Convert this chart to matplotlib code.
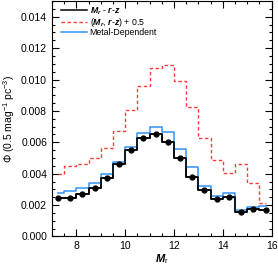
import matplotlib
matplotlib.use("Agg")
import matplotlib.pyplot as plt
from matplotlib.ticker import MultipleLocator, FormatStrFormatter

plt.rcParams['font.family'] = ['Liberation Sans', 'DejaVu Sans']
plt.rcParams['mathtext.fontset'] = 'custom'
plt.rcParams['mathtext.it'] = 'Liberation Sans:italic:bold'
plt.rcParams['mathtext.rm'] = 'Liberation Sans'
plt.rcParams['mathtext.bf'] = 'Liberation Sans:bold'

mag = [7.25, 7.75, 8.25, 8.75, 9.25, 9.75, 10.25, 10.75, 11.25, 11.75,
       12.25, 12.75, 13.25, 13.75, 14.25, 14.75, 15.25, 15.75]
phi_black = [0.00243, 0.00247, 0.0027, 0.00306, 0.00373, 0.00462, 0.00553, 0.0063,
             0.00652, 0.00602, 0.0050, 0.00381, 0.00295, 0.00238, 0.0025, 0.00156,
             0.00177, 0.00166]
phi_red = [0.00395, 0.0045, 0.0046, 0.00497, 0.00564, 0.00672, 0.00803, 0.00957,
           0.01074, 0.01095, 0.00989, 0.00824, 0.0063, 0.00486, 0.00405, 0.0046,
           0.00342, 0.00215]
phi_blue = [0.0028, 0.00287, 0.00306, 0.00338, 0.00399, 0.00475, 0.0057, 0.00658,
            0.00700, 0.00663, 0.00556, 0.0044, 0.0032, 0.0026, 0.00278, 0.00168,
            0.00185, 0.00194]

labels = [r'$M_r$ - $r$-$z$', r'($M_r$, $r$-$z$) + 0.5', 'Metal-Dependent']

fig = plt.figure(figsize=(2.78, 2.66), dpi=100)
ax = fig.add_axes([0.187, 0.111, 0.79, 0.885])

ax.step(mag, phi_black, where='mid', color='black', lw=1.1, label=labels[0])
ax.step(mag, phi_red, where='mid', color='#ff3b3b', lw=1.0, ls=(0, (2.5, 1.8)), label=labels[1])
ax.step(mag, phi_blue, where='mid', color='#3393f5', lw=1.1, label=labels[2])
ax.step(mag, phi_black, where='mid', color='black', lw=1.1)
ax.plot(mag, phi_black, 'o', color='black', ms=3.5, ls='none')

ax.set_xlim(7, 16)
ax.set_ylim(0, 0.015)
ax.xaxis.set_major_locator(MultipleLocator(2))
ax.xaxis.set_minor_locator(MultipleLocator(0.5))
ax.yaxis.set_major_locator(MultipleLocator(0.002))
ax.yaxis.set_minor_locator(MultipleLocator(0.0005))
ax.yaxis.set_major_formatter(FormatStrFormatter('%.3f'))
ax.tick_params(which='both', direction='in', top=True, right=True, labelsize=7.5, width=0.8)
ax.tick_params(which='major', length=5)
ax.tick_params(which='minor', length=2.5)
for s in ax.spines.values():
    s.set_linewidth(0.8)

ax.set_xlabel(r'$M_\mathrm{r}$', fontsize=8, labelpad=0.5)
ax.set_ylabel(r'$\Phi$ (0.5 mag$^{-1}$ pc$^{-3}$)', fontsize=7.5, labelpad=3)

leg = ax.legend(loc='upper left', bbox_to_anchor=(0.02, 1.0), frameon=False,
                fontsize=6.3, handlelength=3.0, handletextpad=0.3,
                labelspacing=-0.1, borderaxespad=0.3, borderpad=0.2)

fig.savefig('out.png', dpi=100)
